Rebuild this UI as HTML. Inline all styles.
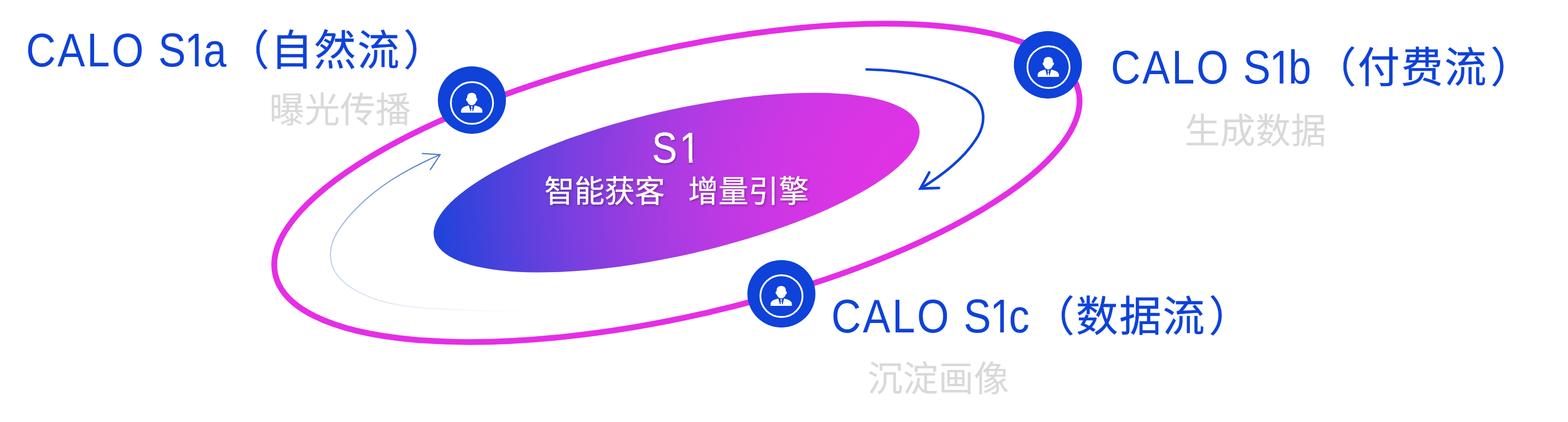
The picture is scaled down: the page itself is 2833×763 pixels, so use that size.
<!DOCTYPE html>
<html lang="zh-CN">
<head>
<meta charset="utf-8">
<title>CALO S1 智能获客 增量引擎</title>
<style>
html,body{margin:0;padding:0;background:#ffffff;}
body{width:2833px;height:763px;position:relative;overflow:hidden;font-family:"Liberation Sans","Noto Sans CJK SC",sans-serif;}
svg.art{position:absolute;left:0;top:0;width:2833px;height:763px;display:block;}
.t{position:absolute;white-space:nowrap;line-height:1;margin:0;padding:0;}
.h{color:#0e42d8;}
.h .en{font-family:"Liberation Sans",sans-serif;font-size:85.5px;letter-spacing:3.85px;position:absolute;left:0;top:1.5px;transform:scaleX(.87);transform-origin:0 0;}
.h .e2{left:239.5px;letter-spacing:0;}
.h .e2 i{font-style:normal;}
.h .e2 .k1{letter-spacing:-2.5px;}
.h .e2 .k2{letter-spacing:-8px;display:inline-block;clip-path:polygon(0 0,100% 0,100% 64.2px,29.15px 64.2px,29.15px 100%,21.45px 100%,21.45px 64.2px,0 64.2px);}
.h .zh i{font-style:normal;margin-left:5px;}
.h .zh{font-family:"Noto Sans CJK SC","Liberation Sans",sans-serif;font-size:76px;letter-spacing:2.4px;font-weight:400;-webkit-text-stroke:0.45px #0e42d8;position:absolute;top:0.7px;}
.sub{color:#d9d9d9;font-family:"Noto Sans CJK SC","Liberation Sans",sans-serif;font-size:63.6px;letter-spacing:0.4px;-webkit-text-stroke:0.15px #d9d9d9;}
.c1{color:#ffffff;font-family:"Liberation Sans",sans-serif;font-size:77.5px;-webkit-text-stroke:0.4px #ffffff;transform:scaleX(.877);transform-origin:0 0;text-shadow:1.5px 2px 4px rgba(0,0,0,.36);}
.c2 .gap{display:inline-block;width:42px;white-space:pre;letter-spacing:0;}
.c1 i{font-style:normal;}
.c1 .k1{letter-spacing:4.7px;}
.c1 .k2{display:inline-block;clip-path:polygon(0 0,120% 0,120% 58px,27px 58px,27px 100%,19.7px 100%,19.7px 58px,0 58px);}
.c2{color:#ffffff;font-family:"Noto Sans CJK SC","Liberation Sans",sans-serif;font-size:54.3px;letter-spacing:0.2px;-webkit-text-stroke:0.45px #ffffff;text-shadow:1.5px 2px 4px rgba(0,0,0,.36);}
</style>
</head>
<body>
<svg class="art" viewBox="0 0 2833 763" width="2833" height="763">
  <defs>
    <radialGradient id="g1" gradientUnits="userSpaceOnUse" cx="1680" cy="340" r="910" gradientTransform="rotate(12.9 1222.5 330.2)">
      <stop offset="0.0000" stop-color="#e033e4"/>
      <stop offset="0.0714" stop-color="#df33e4"/>
      <stop offset="0.1429" stop-color="#dc34e4"/>
      <stop offset="0.2143" stop-color="#d735e4"/>
      <stop offset="0.2857" stop-color="#d036e4"/>
      <stop offset="0.3571" stop-color="#c638e4"/>
      <stop offset="0.4286" stop-color="#bb39e3"/>
      <stop offset="0.5000" stop-color="#ae3be2"/>
      <stop offset="0.5714" stop-color="#9f3ce1"/>
      <stop offset="0.6429" stop-color="#8d3ddf"/>
      <stop offset="0.7143" stop-color="#7a3fdf"/>
      <stop offset="0.7857" stop-color="#6440de"/>
      <stop offset="0.8571" stop-color="#4d41dc"/>
      <stop offset="0.9286" stop-color="#3342db"/>
      <stop offset="1.0000" stop-color="#1a44da"/>
    </radialGradient>
    <linearGradient id="g2" gradientUnits="userSpaceOnUse" x1="795" y1="280" x2="841.2" y2="580.6">
      <stop offset="0.000" stop-color="#4472c4"/>
      <stop offset="0.120" stop-color="#7899d5"/>
      <stop offset="0.325" stop-color="#a2b8e2"/>
      <stop offset="0.485" stop-color="#b8c9e9"/>
      <stop offset="0.670" stop-color="#d0dcf0"/>
      <stop offset="0.757" stop-color="#dae3f3"/>
      <stop offset="0.880" stop-color="#e9eef8"/>
      <stop offset="0.950" stop-color="#f6f8fc"/>
      <stop offset="1.000" stop-color="#ffffff"/>
    </linearGradient>
  </defs>
  <!-- orbit -->
  <ellipse cx="1223" cy="330.6" rx="744.3" ry="241" transform="rotate(-12.9 1223 330.6)" fill="none" stroke="#e52ee5" stroke-width="10.5"/>
  <!-- core -->
  <ellipse cx="1222.5" cy="330.2" rx="449.4" ry="131" transform="rotate(-12.9 1222.5 330.2)" fill="url(#g1)"/>
  <!-- right arrow -->
  <g fill="none" stroke="#0e42d8" stroke-width="4.7" stroke-linecap="round" stroke-linejoin="miter">
    <path d="M1565.7 125.5 C1645 127 1718 144 1753 168 C1780 187 1782 220 1767 246 C1747 280 1712 311 1664 340.4"/>
    <path d="M1679 311.8 L1662.9 340.9 L1696.6 339.8"/>
  </g>
  <!-- left arrow -->
  <g fill="none" stroke-linecap="butt" stroke-linejoin="miter">
    <path d="M795.2 279.7 C770.7 290.1 746.6 301.8 723.7 315.3 C700.7 328.8 679.0 344.2 659.3 361.9 C639.6 379.7 621.1 399.9 607.4 423.2 C593.8 446.4 592.8 476.4 609.1 497.2 C625.3 518.0 650.9 531.2 675.8 540.0 C700.6 548.9 726.9 553.2 753.7 555.8 C780.4 558.4 807.3 559.5 833.8 560.6 C860.4 561.7 886.7 562.4 913.2 561.9 C939.6 561.4 966.2 559.7 993.1 556.4" stroke="url(#g2)" stroke-width="2"/>
    <path d="M762.2 277.6 L795.3 279.7 L777 307.4" stroke="#4472c4" stroke-width="2"/>
  </g>
  <!-- nodes -->
  <g id="n1" transform="translate(852.6 180.9)">
    <ellipse cx="0" cy="0" rx="61.5" ry="61" fill="#0e42d8"/>
    <g transform="translate(0 0) scale(1 0.992)">
    <circle cx="0.1" cy="5.3" r="38.1" fill="none" stroke="#ffffff" stroke-width="3.2"/>
    <g fill="#ffffff">
      <path d="M-0.3 -13.3 C4.6 -13.3 8 -10.2 8 -5.6 L8 -3.4 C9.6 -3.2 10.2 -1.9 9.8 -0.4 C9.4 1.2 8.6 2.2 7.7 2.3 C6.6 6.2 3.6 9.4 -0.3 9.4 C-4.2 9.4 -7.2 6.2 -8.3 2.3 C-9.2 2.2 -10 1.2 -10.4 -0.4 C-10.8 -1.9 -10.2 -3.2 -8.6 -3.4 L-8.6 -5.6 C-8.6 -10.2 -5.2 -13.3 -0.3 -13.3 Z"/>
      <path d="M-19.5 23.1 L-19.5 19.4 C-19.5 14.6 -14.2 11.6 -5.6 9.7 L-2.7 20.2 L-1.6 20.2 L-1.3 15.3 L0.7 15.3 L1.1 20.2 L2.2 20.2 L4.9 9.7 C13.5 11.6 18.9 14.6 18.9 19.4 L18.9 23.1 Z"/>
      <path d="M-1.8 11.3 L1.3 11.3 L0.8 14.3 L-1.3 14.3 Z"/>
    </g>
    </g>
  </g>
  <g id="n2" transform="translate(1893.3 117.2)">
    <ellipse cx="0" cy="0" rx="61.5" ry="61" fill="#0e42d8"/>
    <g transform="translate(1 -1.1) scale(1 0.992)">
    <circle cx="0.1" cy="5.3" r="38.1" fill="none" stroke="#ffffff" stroke-width="3.2"/>
    <g fill="#ffffff">
      <path d="M-0.3 -13.3 C4.6 -13.3 8 -10.2 8 -5.6 L8 -3.4 C9.6 -3.2 10.2 -1.9 9.8 -0.4 C9.4 1.2 8.6 2.2 7.7 2.3 C6.6 6.2 3.6 9.4 -0.3 9.4 C-4.2 9.4 -7.2 6.2 -8.3 2.3 C-9.2 2.2 -10 1.2 -10.4 -0.4 C-10.8 -1.9 -10.2 -3.2 -8.6 -3.4 L-8.6 -5.6 C-8.6 -10.2 -5.2 -13.3 -0.3 -13.3 Z"/>
      <path d="M-19.5 23.1 L-19.5 19.4 C-19.5 14.6 -14.2 11.6 -5.6 9.7 L-2.7 20.2 L-1.6 20.2 L-1.3 15.3 L0.7 15.3 L1.1 20.2 L2.2 20.2 L4.9 9.7 C13.5 11.6 18.9 14.6 18.9 19.4 L18.9 23.1 Z"/>
      <path d="M-1.8 11.3 L1.3 11.3 L0.8 14.3 L-1.3 14.3 Z"/>
    </g>
    </g>
  </g>
  <g id="n3" transform="translate(1411.8 531.2)">
    <ellipse cx="0" cy="0" rx="61.5" ry="61" fill="#0e42d8"/>
    <g transform="translate(0 -1.1) scale(1 0.992)">
    <circle cx="0.1" cy="5.3" r="38.1" fill="none" stroke="#ffffff" stroke-width="3.2"/>
    <g fill="#ffffff">
      <path d="M-0.3 -13.3 C4.6 -13.3 8 -10.2 8 -5.6 L8 -3.4 C9.6 -3.2 10.2 -1.9 9.8 -0.4 C9.4 1.2 8.6 2.2 7.7 2.3 C6.6 6.2 3.6 9.4 -0.3 9.4 C-4.2 9.4 -7.2 6.2 -8.3 2.3 C-9.2 2.2 -10 1.2 -10.4 -0.4 C-10.8 -1.9 -10.2 -3.2 -8.6 -3.4 L-8.6 -5.6 C-8.6 -10.2 -5.2 -13.3 -0.3 -13.3 Z"/>
      <path d="M-19.5 23.1 L-19.5 19.4 C-19.5 14.6 -14.2 11.6 -5.6 9.7 L-2.7 20.2 L-1.6 20.2 L-1.3 15.3 L0.7 15.3 L1.1 20.2 L2.2 20.2 L4.9 9.7 C13.5 11.6 18.9 14.6 18.9 19.4 L18.9 23.1 Z"/>
      <path d="M-1.8 11.3 L1.3 11.3 L0.8 14.3 L-1.3 14.3 Z"/>
    </g>
    </g>
  </g>
</svg>

<div class="t h" id="h1" style="left:46.5px;top:46.5px;"><span class="en">CALO </span><span class="en e2"><i class="k1">S</i><i class="k2">1</i>a</span><span class="zh" style="left:364px;">（自然流<i>）</i></span></div>
<div class="t sub" id="s1" style="left:486.5px;top:161.7px;">曝光传播</div>

<div class="t h" id="h2" style="left:2006.5px;top:77px;"><span class="en">CALO </span><span class="en e2"><i class="k1">S</i><i class="k2">1</i>b</span><span class="zh" style="left:368px;">（付费流<i>）</i></span></div>
<div class="t sub" id="s2" style="left:2140.5px;top:199.7px;">生成数据</div>

<div class="t h" id="h3" style="left:1501.5px;top:527px;"><span class="en">CALO </span><span class="en e2"><i class="k1">S</i><i class="k2">1</i>c</span><span class="zh" style="left:364px;">（数据流<i>）</i></span></div>
<div class="t sub" id="s3" style="left:1567.5px;top:647.7px;">沉淀画像</div>

<div class="t c1" id="c1" style="left:1177.8px;top:229px;"><i class="k1">S</i><i class="k2">1</i></div>
<div class="t c2" id="c2" style="left:983.5px;top:315px;"><span id="c2a">智能获客</span><span class="gap">  </span><span id="c2b">增量引擎</span></div>
</body>
</html>
